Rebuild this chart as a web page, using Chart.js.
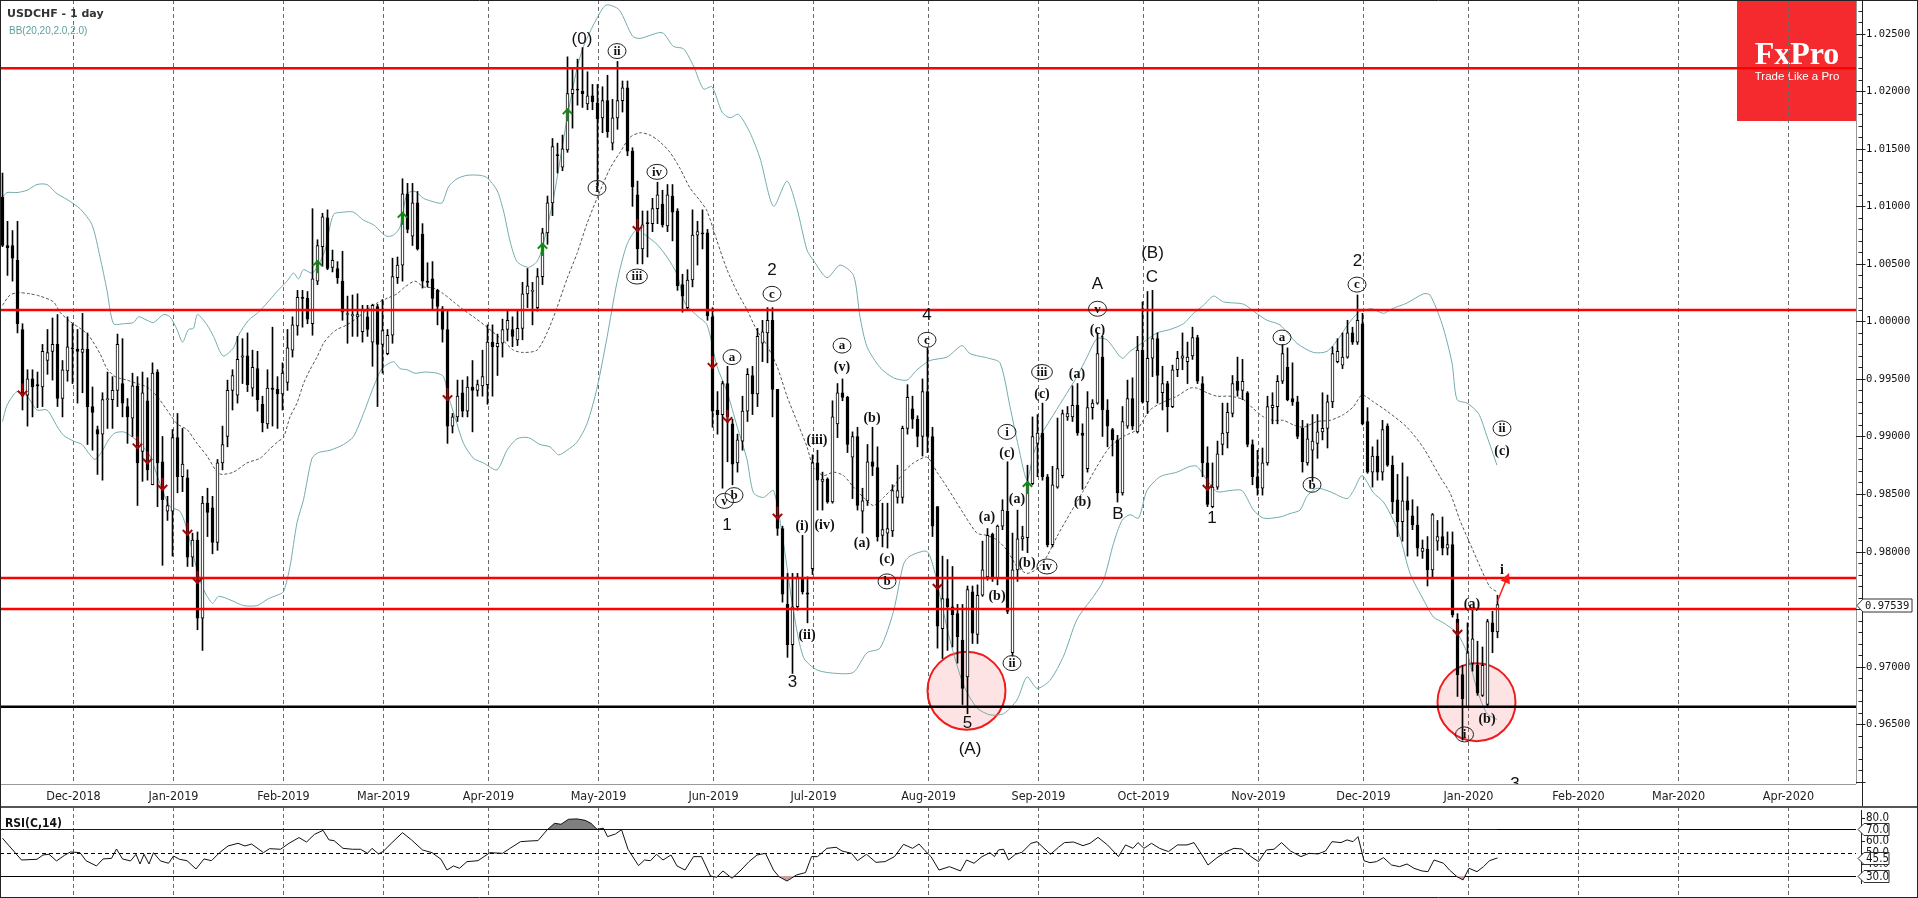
<!DOCTYPE html>
<html>
<head>
<meta charset="utf-8">
<title>USDCHF - 1 day</title>
<script src="https://cdn.jsdelivr.net/npm/chart.js@4.4.1/dist/chart.umd.min.js"></script>
<style>
  html, body { margin: 0; padding: 0; background: #fff; }
  #wrap { position: relative; width: 1918px; height: 898px; overflow: hidden; background: #fff; }
  #main { position: absolute; left: 0; top: 0; }
  #rsi  { position: absolute; left: 0; top: 806px; }
</style>
</head>
<body>
<div id="wrap">
  <canvas id="main" width="1918" height="806" style="width:1918px;height:806px"></canvas>
  <canvas id="rsi" width="1918" height="92" style="width:1918px;height:92px"></canvas>
</div>
<script>
/* ---------- data (prices in pips, 1 pip = 0.0001) ---------- */
const OPENS = [
10108,10066,10066,10053,9993,9936,9950,9945,9943,9966, 9974,9980,9933,9957,9977,9976,9973,9976,9926,9906,
9902,9932,9932,9940,9946,9926,9916,9944,9887,9931, 9858,9956,9878,9835,9835,9899,9865,9864,9795,9810,
9742,9842,9838,9808,9877,9900,9940,9936,9969,9970, 9942,9959,9928,9911,9942,9941,9937,9947,9975,9996,
10021,10020,9998,10035,10065,10090,10047,10046,10035,10006, 10005,10004,9991,10004,9982,10013,9980,9972,9988,10038,
10049,10111,10074,10103,10076,10035,10037,10027,10011,9993, 9909,9917,9938,9922,9943,9940,9944,9945,9982,9978,
9981,9993,9993,9984,9994,10024,10026,10012,10039,10077, 10103,10145,10134,10149,10198,10202,10200,10189,10196,10190,
10177,10192,10155,10177,10192,10203,10148,10110,10063,10086, 10085,10098,10102,10083,10109,10096,10032,10012,10036,10075,
10077,10077,10004,9923,9919,9946,9911,9877,9896,9922, 9953,9937,9981,9990,10001,9941,9820,9754,9719,9752,
9777,9764,9785,9877,9861,9863,9843,9911,9938,9934, 9882,9900,9835,9844,9878,9873,9814,9816,9818,9847,
9847,9907,9924,9915,9900,9939,9900,9839,9733,9759, 9752,9746,9723,9691,9765,9728,9762,9778,9815,9777,
9822,9835,9712,9784,9811,9812,9859,9894,9903,9865, 9806,9856,9866,9917,9917,9927,9903,9872,9925,9929,
9969,9923,9906,9897,9851,9909,9933,9904,9975,9930, 9968,9985,9938,9946,9926,9958,9968,9965,9970,9986,
9946,9877,9839,9856,9893,9903,9920,9948,9940,9938, 9893,9865,9855,9877,9925,9926,9948,9960,9933,9930,
9907,9877,9888,9894,9904,9907,9930,9965,9962,9969, 9990,9982,9998,9913,9869,9883,9869,9909,9875,9845,
9826,9844,9831,9823,9800,9802,9784,9809,9813,9803, 9806,9741,9693,9665,9703,9701,9675,9667,9738,9730
];
const HIGHS = [
10129,10087,10079,10087,9998,9958,9958,9956,9980,9993, 10003,10006,9966,10004,9998,9993,10007,9990,9943,9909,
9938,9956,9952,9989,9985,9933,9955,9952,9956,9951, 9964,9958,9900,9848,9906,9920,9907,9871,9816,9817,
9848,9855,9848,9880,9909,9949,9958,9987,9985,9990, 9975,9974,9935,9958,9995,9952,9964,9993,10004,10027,
10027,10026,10098,10071,10094,10097,10062,10052,10061,10022, 10023,10024,10014,10014,10015,10015,10019,9993,10055,10056,
10124,10120,10120,10113,10085,10051,10052,10028,10013,10010, 9920,9949,9949,9952,9966,9949,9975,9997,9997,9989,
10002,10010,10004,10009,10034,10046,10034,10046,10081,10109, 10159,10155,10162,10230,10219,10228,10238,10217,10206,10206,
10204,10214,10193,10226,10209,10209,10151,10122,10096,10096, 10107,10121,10114,10119,10119,10098,10041,10045,10097,10087,
10097,10080,10012,9939,9948,9961,9915,9902,9935,9959, 9961,9994,10001,10012,10012,9941,9822,9781,9781,9781,
9814,9778,9884,9888,9869,9864,9931,9946,9950,9935, 9904,9908,9855,9893,9908,9891,9842,9842,9858,9875,
9909,9945,9935,9918,9950,9977,9908,9839,9796,9793, 9787,9754,9754,9770,9770,9771,9809,9820,9816,9823,
9845,9878,9816,9836,9822,9875,9917,9919,9929,9867, 9874,9916,9923,9926,9944,9946,9911,9939,9932,9990,
9987,9932,9907,9901,9926,9949,9951,9987,10017,10026, 10027,9990,9961,9948,9962,9974,9990,9982,9995,9988,
9952,9891,9877,9896,9929,9929,9953,9969,9967,9939, 9897,9888,9890,9935,9938,9953,9980,9977,9964,9935,
9914,9911,9919,9919,9938,9936,9978,9985,9990,10001, 9995,10023,10007,9925,9891,9897,9914,9911,9883,9867,
9877,9865,9845,9839,9810,9813,9833,9827,9830,9817, 9817,9746,9701,9738,9749,9722,9717,9741,9748,9762
];
const LOWS = [
10065,10040,10035,9990,9923,9909,9917,9925,9926,9954, 9949,9926,9917,9948,9946,9929,9938,9893,9888,9867,
9862,9907,9907,9926,9917,9894,9900,9840,9861,9862, 9858,9839,9788,9827,9796,9851,9852,9787,9787,9732,
9714,9813,9798,9801,9871,9891,9923,9929,9946,9939, 9935,9922,9904,9907,9909,9907,9923,9940,9969,9988,
9995,9998,9988,10032,10048,10045,10043,10033,10001,9981, 9987,9987,9982,9987,9961,9926,9955,9971,9981,10033,
10035,10077,10066,10062,10029,10030,10011,9997,9982,9894, 9903,9913,9917,9917,9904,9935,9935,9928,9935,9953,
9969,9983,9978,9979,9984,10012,9997,10009,10032,10067, 10092,10129,10131,10147,10168,10188,10186,10184,10184,10116,
10164,10160,10149,10167,10182,10144,10100,10050,10050,10056, 10078,10085,10082,10078,10070,10027,10008,10010,10030,10049,
10063,10001,9908,9902,9855,9878,9858,9869,9888,9913, 9919,9926,9965,9964,9917,9814,9756,9708,9694,9749,
9763,9738,9780,9836,9836,9842,9842,9899,9931,9886, 9846,9836,9816,9840,9866,9809,9804,9803,9813,9842,
9842,9902,9907,9891,9883,9886,9813,9716,9707,9714, 9717,9703,9667,9659,9720,9720,9761,9775,9774,9771,
9819,9746,9709,9774,9801,9799,9858,9865,9862,9804, 9804,9855,9864,9914,9913,9901,9854,9869,9915,9928,
9900,9891,9883,9843,9849,9907,9906,9903,9929,9920, 9952,9929,9923,9904,9925,9952,9958,9946,9967,9946,
9865,9839,9838,9854,9884,9890,9917,9935,9932,9891, 9858,9849,9849,9875,9911,9911,9946,9931,9927,9898,
9869,9875,9861,9881,9897,9890,9925,9964,9959,9968, 9980,9980,9910,9868,9856,9862,9862,9874,9833,9813,
9809,9796,9819,9796,9794,9770,9778,9801,9797,9797, 9743,9674,9636,9665,9696,9675,9674,9665,9712,9725
];
const CLOSES = [
10066,10064,10055,9998,9935,9950,9943,9944,9974,9973, 9980,9933,9958,9978,9976,9974,9976,9926,9921,9902,
9932,9933,9940,9980,9929,9917,9944,9877,9938,9871, 9955,9877,9845,9840,9899,9865,9876,9795,9810,9742,
9842,9834,9808,9877,9893,9940,9953,9967,9970,9945, 9960,9932,9912,9942,9941,9937,9955,9977,9997,10021,
10020,10002,10037,10066,10091,10046,10053,10038,10008,10006, 10005,10006,10010,9993,10014,9980,9992,9988,10039,10049,
10111,10080,10103,10063,10035,10034,10020,10013,9993,9909, 9917,9935,9922,9943,9940,9945,9952,9982,9978,9981,
9993,10001,9987,9994,10024,10031,10027,10039,10077,10103, 10152,10144,10150,10198,10202,10201,10198,10196,10191,10176,
10192,10165,10177,10192,10203,10148,10117,10063,10084,10085, 10098,10110,10084,10110,10095,10031,10022,10036,10075,10078,
10076,10005,9922,9919,9946,9917,9876,9897,9922,9954, 9937,9987,9991,10001,9941,9820,9763,9719,9752,9778,
9765,9763,9877,9862,9863,9843,9917,9938,9934,9893, 9900,9840,9844,9878,9874,9813,9819,9820,9853,9853,
9907,9934,9915,9900,9939,9900,9822,9735,9759,9752, 9745,9726,9681,9767,9729,9762,9784,9814,9777,9822,
9836,9748,9784,9811,9813,9859,9900,9903,9865,9806, 9858,9872,9920,9920,9927,9903,9901,9925,9929,9972,
9923,9909,9897,9851,9913,9933,9909,9975,9930,9968, 9985,9953,9946,9926,9958,9968,9970,9969,9986,9948,
9877,9841,9856,9885,9903,9921,9946,9940,9948,9893, 9865,9855,9877,9926,9927,9948,9972,9932,9930,9900,
9878,9898,9896,9904,9907,9930,9972,9974,9969,9990, 9982,10001,9911,9869,9883,9869,9906,9875,9843,9826,
9844,9836,9823,9803,9803,9784,9832,9813,9803,9806, 9745,9693,9672,9712,9724,9677,9701,9739,9730,9753.9
];

/* Bollinger bands (20, 2): [bar index, pips] */
const BB_UPPER = [[0,10108],[0.9,10112],[2.9,10112],[4.9,10114],[6.9,10119],[8.9,10119],[10.9,10111],[12.9,10106],[15.5,10098],[17.9,10084],[19.5,10056],[20.9,10027],[22.2,9998],[24.2,9998],[26.2,9999],[27.2,10004],[28.9,10001],[30.2,9999],[32.2,10006],[33.5,10004],[34.9,9993],[36,9982],[37.2,9993],[38.2,9994],[39,10006],[40.9,9997],[42.2,9987],[44.1,9970],[46.2,9977],[47.2,9988],[49.2,10001],[51.2,10008],[52.9,10016],[54.9,10026],[56.9,10035],[58.2,10042],[59.2,10037],[60.2,10045],[61.9,10042],[63.2,10049],[64.5,10062],[66.2,10093],[68.2,10095],[70.2,10095],[72.2,10088],[74.2,10084],[75.9,10077],[76.9,10074],[78.2,10075],[79.5,10082],[80.9,10111],[82.5,10113],[84.2,10107],[86.2,10104],[87.9,10103],[89.2,10117],[90.9,10124],[92.9,10127],[95.5,10127],[96.9,10125],[98.9,10114],[100.2,10096],[101.5,10070],[102.9,10052],[105.2,10047],[106.9,10052],[107.9,10063],[110.2,10107],[112.9,10176],[114.9,10220],[116.2,10239],[118.7,10262],[120.7,10275],[123.3,10271],[126,10248],[127.5,10246],[131.9,10251],[134.2,10239],[136.2,10237],[138.2,10222],[140.2,10202],[141.9,10204],[143.9,10182],[145.5,10177],[147.2,10180],[149.5,10164],[151.5,10142],[154.2,10100],[156.9,10122],[158.9,10098],[160.9,10062],[162.2,10053],[164.9,10038],[167.5,10049],[170.2,10040],[171.5,10004],[172.9,9978],[175.5,9960],[178.2,9951],[180.9,9949],[182.9,9958],[185.5,9966],[188.9,9969],[191.9,9979],[193.5,9972],[197.2,9968],[199.5,9964],[201.5,9926],[203.2,9891],[204.9,9862],[206.2,9885],[207.9,9903],[209.5,9914],[212.2,9933],[214.9,9952],[216.9,9969],[218.9,9985],[220.9,9984],[223.9,9968],[225.5,9974],[228.2,9982],[230.9,9990],[233.5,9993],[236.2,9998],[238.2,10007],[240.2,10014],[242.2,10022],[244.2,10017],[248.2,10015],[250.5,10008],[252.9,10001],[255.5,9997],[258.9,9981],[262.2,9973],[264.9,9974],[267.2,9985],[269.2,9998],[271.2,10008],[272.5,10010],[273.9,10011],[276.2,10007],[277.9,10011],[280.9,10016],[284.2,10024],[285.5,10023],[287.9,9998],[289.9,9964],[290.9,9932],[292.9,9929],[295.2,9920],[296.9,9900],[298.9,9875]];
const BB_MID = [[0,10014],[1.5,10023],[3.2,10025],[5.5,10024],[7.5,10022],[10.2,10017],[11.5,10008],[13.5,10000],[15.5,9994],[17.2,9988],[19.5,9972],[20.9,9959],[22.5,9952],[24.9,9949],[26.9,9946],[28.9,9943],[30.9,9935],[32.9,9923],[34.9,9911],[36.9,9906],[38.9,9894],[40.9,9883],[42.9,9869],[43.9,9867],[46.2,9869],[48.9,9877],[51.5,9881],[53.2,9888],[55.2,9896],[56.2,9899],[57.5,9917],[58.9,9929],[60.2,9946],[61.5,9958],[62.9,9969],[64.2,9981],[65.5,9988],[66.9,9993],[68.9,9997],[70.9,10003],[72.9,10010],[74.9,10016],[76.9,10020],[78.9,10024],[80.5,10030],[82.5,10035],[84.2,10030],[86.2,10029],[88.2,10024],[90.2,10017],[92.2,10010],[94.2,10004],[96.9,9995],[100.2,9983],[102.2,9975],[104.2,9973],[106.9,9975],[108.9,9990],[110.9,10012],[112.9,10037],[114.9,10059],[116.9,10085],[118.9,10107],[121.5,10133],[123.5,10147],[125.5,10160],[127.5,10164],[129.5,10162],[131.5,10156],[133.5,10147],[135.5,10133],[137.5,10116],[139.5,10105],[140.9,10096],[142.9,10070],[144.9,10045],[146.9,10026],[148.9,10010],[150.9,9992],[152.9,9979],[154.9,9961],[156.9,9935],[158.9,9913],[160.9,9891],[162.2,9873],[164.2,9866],[166.2,9869],[168.2,9866],[170.2,9856],[172.2,9847],[174.2,9840],[176.2,9847],[178.2,9856],[180.2,9869],[182.2,9877],[184.9,9882],[186.9,9869],[188.9,9856],[192.2,9833],[194.9,9816],[196.9,9814],[198.9,9810],[200.9,9801],[202.9,9787],[204.9,9781],[206.9,9785],[208.9,9796],[210.9,9813],[213.5,9833],[216.2,9853],[218.9,9874],[221.5,9891],[224.2,9900],[226.9,9906],[229.5,9923],[232.2,9930],[234.9,9935],[237.5,9942],[238.9,9942],[240.9,9938],[242.9,9935],[245.5,9935],[248.2,9932],[250.2,9924],[252.2,9917],[254.2,9914],[256.2,9914],[258.2,9910],[260.2,9908],[262.9,9913],[265.5,9914],[268.2,9919],[270.2,9926],[271.9,9936],[274.2,9930],[276.9,9922],[280.9,9908],[284.2,9890],[287.5,9865],[289.5,9851],[291.5,9827],[293.5,9807],[295.5,9787],[297.5,9769],[298.9,9765]];
const BB_LOWER = [[0,9913],[0.9,9927],[2.9,9939],[4.9,9935],[6.9,9923],[8.9,9923],[10.9,9909],[12.2,9901],[14.2,9896],[15.9,9893],[17.5,9884],[18.5,9880],[19.9,9887],[21.2,9897],[22.5,9903],[24.2,9904],[25.5,9901],[27.5,9894],[29.5,9883],[31.5,9859],[33.5,9839],[35.5,9835],[36.9,9819],[38.9,9784],[40.2,9767],[42,9755],[43.2,9761],[45.5,9758],[48.2,9753],[50.9,9753],[53.2,9759],[54.9,9762],[56.2,9765],[57.5,9787],[58.9,9825],[60.2,9845],[61.9,9881],[63.2,9886],[65.5,9888],[68.2,9893],[70.2,9900],[72.2,9920],[74.2,9943],[75.9,9959],[78.2,9965],[79.5,9959],[80.9,9958],[82.5,9955],[84.5,9956],[86.9,9955],[88.2,9952],[89.2,9935],[90.9,9911],[92.2,9894],[94.2,9881],[96.2,9877],[98.9,9871],[100.9,9888],[102.9,9898],[105.2,9899],[107.5,9893],[109.5,9891],[111.2,9884],[112.9,9888],[114.9,9895],[116.9,9911],[118.9,9942],[120.9,9986],[122.9,10034],[124.9,10067],[126.9,10080],[128.9,10074],[130.9,10067],[132.9,10056],[134.9,10041],[136.5,10016],[138.9,10005],[140.9,9997],[142.9,9961],[144.9,9939],[146.9,9909],[148.9,9880],[150.2,9851],[152.2,9847],[154.2,9853],[156.2,9807],[158.2,9748],[160.2,9708],[162.9,9697],[166.9,9694],[170.2,9695],[172.9,9712],[175.5,9716],[178.2,9748],[180.2,9789],[181.5,9796],[184.9,9800],[186.5,9781],[187.5,9761],[189.5,9723],[192.2,9684],[194.9,9664],[197.5,9658],[200.2,9659],[202.9,9671],[204.9,9691],[206.9,9681],[209.5,9688],[212.2,9709],[214.9,9741],[218.2,9761],[220.2,9775],[222.2,9807],[223.9,9827],[225.5,9832],[227.2,9829],[228.9,9853],[231.5,9865],[234.9,9869],[237.5,9874],[238.9,9874],[240.9,9862],[242.9,9852],[245.5,9853],[247.9,9853],[250.2,9836],[252.2,9829],[255.5,9830],[257.5,9833],[259.5,9836],[260.9,9848],[262.9,9855],[265.5,9852],[268.9,9846],[270.2,9853],[271.9,9866],[274.2,9851],[276.2,9843],[278.2,9827],[279.5,9813],[281.5,9781],[284.2,9758],[286.2,9743],[288.2,9738],[290.9,9729],[292.9,9712],[294.9,9680],[296.9,9659],[298.9,9654]];

/* RSI(14) */
const RSI_X = [0,3.8,6.9,8.1,9.3,10.8,12.4,13.6,15.5,16.7, 18.8,20.1,21.8,22.8,24,25.6,26.7,27.5,28.3,29.3,
30.2,31.6,33.2,34.2,35.4,36.9,38.7,40.3,41.8,43.4, 45.1,47.1,48.5,49.8,52.2,53.4,55.6,57.3,59.3,60.8,
62.4,64.1,65.3,66.3,68.1,70,71.6,73,73.9,75.2, 76.1,77.9,80,81.8,84,85.9,87.7,88.9,90.2,91.4,
92.9,95.1,96.3,97.5,100,101.4,103.6,105.5,107.1,108.9, 110.4,111.7,113.2,114.9,116.5,117.7,118.9,120.2,121,122.6,
123.8,125.1,127.2,128.4,129.6,130.8,132.1,133.7,134.9,136.5, 138.2,139.8,141.6,142.8,144.1,145.9,147.7,149.3,150.9,152.6,
154.2,155.3,156.9,158.8,160.6,161.8,163,164.9,166.7,167.9, 169.8,171,172.8,174.7,176.5,178.4,180.2,182,183.3,184.5,
185.7,187.3,189.4,191.6,
192.8,194.3,195.9,197.5,198.4,199.2,200.2,201.2,202.6,203.9, 205.7,206.9,208.1,209.6,211.2,212.4,214.2,216.1,217.5,219.1,
221,223.2,224.6,226.1,227.1,228.3,229.8,231.4,233.2,235, 236.9,238.3,239.9,241.1,242.9,244.8,246.3,247.9,249.7,251.2,
252.8,254.3,255.8,257.6,259.7,261.3,263.1,264.6,265.9,267.7, 268.9,270.1,271.1,272.3,273.5,274.8,276.2,277.8,279.4,280.9,
282.3,283.9,285.1,286.3,288.2,289.4,290.9,292.1,293.3,294.9, 296.2,297.4,299];
const RSI_V = [62.3,43.7,44.3,48,48.6,42.9,47.7,50.6,50,43.1, 38.6,44.6,45.1,53.1,44.6,42.9,48.6,40.3,48.6,40.3,
50,42.9,40.9,47.1,44.3,43.1,36,44.6,43.1,50, 55.7,58,55.7,57.4,50,53.4,52.9,58,62.9,59.1,
65.7,69.1,60.9,60.3,53.7,52.9,52.9,49.4,53.7,48.9, 50.9,58.6,67.1,60.9,52.3,50,44.3,35.1,38.6,36.6,
42.3,43.1,46.6,50,49.4,53.4,59.4,60,60.3,69.4, 75.1,74.3,78.6,78.9,77.7,75.1,70,70.9,63.7,66,
69.7,52.9,38.9,43.7,43.1,48.6,43.7,48,38.6,35.1, 46.6,46.6,30,28.9,34.3,28,35.1,42.3,48,49.4,
35.1,29.4,25.7,30.9,32.9,46.6,46.6,53.7,54.6,51.4, 49.4,43.1,48.6,41.7,42.3,46.6,57.1,53.7,57.4,51.7,
46.6,35.1,38,34.3,
43.7,40.9,46.6,50,46.6,52.3,52.9,43.7,48.6,50.3, 58,59.4,54.6,48.6,54.6,58.6,59.1,56,58,63.1,
56.6,46.6,56.6,53.7,58.6,53.7,58,53.7,50.9,56.6, 56.6,58.6,48,39.4,45.7,50.9,53.7,53.1,46.6,42.3,
52.3,52.9,58.6,51.4,46.6,49.4,48.9,51.4,59.4,58.6, 60.9,59.4,63.7,43.1,41.4,42.3,45.7,39.4,38,40.3,
36.6,34.3,33.7,43.7,40.9,35.1,29.4,26.6,36.6,33.7, 38,43.1,45.5];

/* month starts (bar index) and their labels */
const MONTH_IDX = [14,34,56,76,97,119,142,162,185,207,228,251,272,293,315,335,357];
const MONTH_LABELS = ['Dec-2018','Jan-2019','Feb-2019','Mar-2019','Apr-2019','May-2019','Jun-2019','Jul-2019','Aug-2019',
  'Sep-2019','Oct-2019','Nov-2019','Dec-2019','Jan-2020','Feb-2020','Mar-2020','Apr-2020'];

/* horizontal levels */
const RED_LEVELS = [1.0220, 1.0010, 0.9777, 0.9750];
const SUPPORT_LEVEL = 0.9665;

/* annotations: [bar, pips] */
const DOWN_MARKS = [[4,9940],[27,9894],[29,9881],[32,9858],[37,9819],[39,9777],[89,9936],[127,10083],[142,9964],[145,9917],[155,9833],[187,9772],[241,9858],[291,9732]];
const UP_MARKS = [[63,10048],[80,10090],[108,10063],[113,10180],[205,9856]];
const RINGS = [[192.8,9679],[294.8,9669]];
const WAVES = [
  [115.9,10245,'(0)','n'],[122.9,10235,'ii','c'],[118.9,10116,'i','c'],[130.9,10130,'iv','c'],[126.9,10039,'iii','c'],
  [153.9,10044,'2','n'],[153.9,10024,'c','c'],[145.9,9969,'a','c'],[144.4,9844,'v','c'],[146.3,9849,'b','c'],
  [144.9,9823,'1','n'],[158,9686,'3','n'],[159.9,9822,'(i)','p'],[160.9,9727,'(ii)','p'],[162.9,9897,'(iii)','p'],
  [164.4,9823,'(iv)','p'],[167.9,9979,'a','c'],[167.9,9960,'(v)','p'],[173.9,9916,'(b)','p'],[171.9,9807,'(a)','p'],
  [176.9,9793,'(c)','p'],[176.9,9774,'b','c'],[184.9,10005,'4','n'],[184.9,9984,'c','c'],[193,9651,'5','n'],
  [193.5,9628,'(A)','n'],[200.9,9904,'i','c'],[200.9,9885,'(c)','p'],[196.9,9830,'(a)','p'],[202.9,9845,'(a)','p'],
  [198.9,9761,'(b)','p'],[204.9,9790,'(b)','p'],[201.9,9703,'ii','c'],[208.9,9787,'iv','c'],[207.9,9956,'iii','c'],
  [207.9,9937,'(c)','p'],[214.9,9954,'(a)','p'],[216,9843,'(b)','p'],[219,10032,'A','n'],[219,10011,'v','c'],
  [219,9992,'(c)','p'],[223.1,9832,'B','n'],[229.9,10038,'C','n'],[230,10059,'(B)','n'],[241.9,9829,'1','n'],
  [255.9,9986,'a','c'],[261.9,9858,'b','c'],[270.9,10032,'c','c'],[271,10052,'2','n'],[299.9,9907,'ii','c'],
  [299.9,9887,'(c)','p'],[299.9,9784,'i','p'],[293.9,9754,'(a)','p'],[296.9,9654,'(b)','p'],[292.4,9641,'i','c'],
  [302.5,9598,'3','n']
];
const TARGET_ARROW = [[299,9757],[301,9778]];

/* ---------- layout ---------- */
const X_MIN = -0.5, X_MAX = X_MIN + 1856 / 5;
const Y_MIN = 0.95979, Y_MAX = 1.02794;
const RSI_MIN = 12.0, RSI_MAX = 89.1;
const NARROW = "'Liberation Sans Narrow','DejaVu Sans Condensed','Arial Narrow',sans-serif";
const MONO = "'DejaVu Sans Mono','Liberation Mono',monospace";
const SERIF = "'Liberation Serif','DejaVu Serif',serif";
const SANS = "'Liberation Sans',Arial,sans-serif";
const P = v => v / 10000;

const bodies = OPENS.map((o, i) => ({ x: i, y: [P(Math.min(o, CLOSES[i])), P(Math.max(o, CLOSES[i]))], up: CLOSES[i] >= o }));
const wicks = OPENS.map((o, i) => ({ x: i, y: [P(LOWS[i]), P(HIGHS[i])] }));
const band = arr => arr.map(([x, v]) => ({ x, y: P(v) }));
const level = v => [{ x: X_MIN, y: v }, { x: X_MAX, y: v }];

function monthGrid(ctx, chart){
  const { chartArea: a, scales: { x } } = chart;
  ctx.save();
  ctx.strokeStyle = '#6a6a6a'; ctx.lineWidth = 1; ctx.setLineDash([4, 3]);
  MONTH_IDX.forEach(i => {
    const px = Math.round(x.getPixelForValue(i)) + 0.5;
    ctx.beginPath(); ctx.moveTo(px, a.top); ctx.lineTo(px, a.bottom); ctx.stroke();
  });
  ctx.restore();
}

function tag(ctx, tip, yc, w, h, text, font){
  ctx.save();
  ctx.beginPath();
  ctx.moveTo(tip, yc); ctx.lineTo(tip + 6, yc - h / 2); ctx.lineTo(tip + 6 + w, yc - h / 2);
  ctx.lineTo(tip + 6 + w, yc + h / 2); ctx.lineTo(tip + 6, yc + h / 2); ctx.closePath();
  ctx.fillStyle = '#fff'; ctx.fill(); ctx.strokeStyle = '#333'; ctx.lineWidth = 1; ctx.stroke();
  ctx.fillStyle = '#111'; ctx.font = font; ctx.textBaseline = 'middle'; ctx.textAlign = 'left';
  ctx.fillText(text, tip + 8, yc + 0.5);
  ctx.restore();
}

function arrowMark(ctx, px, py, down, color){
  ctx.save();
  ctx.strokeStyle = color; ctx.lineWidth = 2; ctx.lineCap = 'square';
  const d = down ? 1 : -1;
  ctx.beginPath(); ctx.moveTo(px, py - 6 * d); ctx.lineTo(px, py + 5 * d); ctx.stroke();
  ctx.beginPath(); ctx.moveTo(px - 4, py + 1 * d); ctx.lineTo(px, py + 5 * d); ctx.lineTo(px + 4, py + 1 * d); ctx.stroke();
  ctx.restore();
}

function waveLabel(ctx, px, py, text, kind){
  ctx.save();
  ctx.fillStyle = '#111'; ctx.textAlign = 'center'; ctx.textBaseline = 'middle';
  if (kind === 'n') {
    ctx.font = '17px ' + SANS;
    ctx.fillText(text, px, py);
  } else if (kind === 'p') {
    ctx.font = 'bold 14px ' + SERIF;
    ctx.fillText(text, px, py);
  } else {
    ctx.font = 'bold 13px ' + SERIF;
    const w = ctx.measureText(text).width;
    ctx.beginPath(); ctx.ellipse(px, py, Math.max(9, w / 2 + 5), 7.5, 0, 0, Math.PI * 2);
    ctx.strokeStyle = '#222'; ctx.lineWidth = 1; ctx.stroke();
    ctx.fillText(text, px, py + 0.5);
  }
  ctx.restore();
}

/* ---------- main panel ---------- */
const mainDeco = {
  id: 'mainDeco',
  beforeDatasetsDraw(chart){
    const { ctx, chartArea: a, scales: { x, y } } = chart;
    // FxPro logo
    ctx.save();
    ctx.fillStyle = '#f42a2e'; ctx.fillRect(1737, 0, 120, 121);
    ctx.fillStyle = '#fff'; ctx.textAlign = 'center'; ctx.textBaseline = 'alphabetic';
    ctx.font = 'bold 32px ' + SERIF; ctx.fillText('FxPro', 1797, 64);
    ctx.font = '11.5px ' + SANS; ctx.fillText('Trade Like a Pro', 1797, 80);
    ctx.restore();
    monthGrid(ctx, chart);
    // rings
    ctx.save();
    RINGS.forEach(([i, p]) => {
      ctx.beginPath(); ctx.arc(x.getPixelForValue(i), y.getPixelForValue(P(p)), 39, 0, Math.PI * 2);
      ctx.fillStyle = 'rgba(240,80,80,0.16)'; ctx.fill();
      ctx.strokeStyle = '#ee1c1c'; ctx.lineWidth = 2; ctx.stroke();
    });
    ctx.restore();
  },
  afterDatasetsDraw(chart){
    const { ctx, chartArea: a, scales: { x, y } } = chart;
    ctx.save();
    ctx.beginPath(); ctx.rect(a.left, a.top, a.right - a.left, a.bottom - a.top); ctx.clip();
    DOWN_MARKS.forEach(([i, p]) => arrowMark(ctx, x.getPixelForValue(i), y.getPixelForValue(P(p)), true, '#9b0a0a'));
    UP_MARKS.forEach(([i, p]) => arrowMark(ctx, x.getPixelForValue(i), y.getPixelForValue(P(p)), false, '#118a11'));
    WAVES.forEach(([i, p, t, k]) => waveLabel(ctx, x.getPixelForValue(i), y.getPixelForValue(P(p)), t, k));
    // projected move
    const [s, e] = TARGET_ARROW;
    const x0 = x.getPixelForValue(s[0]), y0 = y.getPixelForValue(P(s[1]));
    const x1 = x.getPixelForValue(e[0]), y1 = y.getPixelForValue(P(e[1]));
    const ang = Math.atan2(y1 - y0, x1 - x0);
    ctx.strokeStyle = '#ff1a1a'; ctx.fillStyle = '#ff1a1a'; ctx.lineWidth = 1.5;
    ctx.beginPath(); ctx.moveTo(x0, y0); ctx.lineTo(x1, y1); ctx.stroke();
    ctx.beginPath();
    ctx.moveTo(x1 + 4 * Math.cos(ang), y1 + 4 * Math.sin(ang));
    ctx.lineTo(x1 - 6 * Math.cos(ang) + 5 * Math.sin(ang), y1 - 6 * Math.sin(ang) - 5 * Math.cos(ang));
    ctx.lineTo(x1 - 6 * Math.cos(ang) - 5 * Math.sin(ang), y1 - 6 * Math.sin(ang) + 5 * Math.cos(ang));
    ctx.closePath(); ctx.fill();
    ctx.restore();
  },
  afterDraw(chart){
    const { ctx, chartArea: a, scales: { x, y } } = chart;
    ctx.save();
    // frame
    ctx.strokeStyle = '#999'; ctx.lineWidth = 1;
    ctx.beginPath(); ctx.moveTo(0, a.bottom + 0.5); ctx.lineTo(a.right, a.bottom + 0.5); ctx.stroke();
    ctx.beginPath(); ctx.moveTo(a.right + 0.5, 0); ctx.lineTo(a.right + 0.5, a.bottom); ctx.stroke();
    ctx.strokeStyle = '#222';
    ctx.beginPath(); ctx.moveTo(0.5, 0); ctx.lineTo(0.5, 806); ctx.stroke();
    ctx.beginPath(); ctx.moveTo(0, 0.5); ctx.lineTo(1918, 0.5); ctx.stroke();
    ctx.beginPath(); ctx.moveTo(1917.5, 0); ctx.lineTo(1917.5, 806); ctx.stroke();
    const axX = 1862.5;
    ctx.beginPath(); ctx.moveTo(axX, 0); ctx.lineTo(axX, 806); ctx.stroke();
    // ticks + labels
    ctx.fillStyle = '#111'; ctx.font = '10.5px ' + MONO; ctx.textBaseline = 'middle'; ctx.textAlign = 'left';
    for (let k = 960; k <= 1027; k++) {
      const py = Math.round(y.getPixelForValue(k / 1000)) + 0.5;
      const major = k % 5 === 0;
      ctx.beginPath(); ctx.moveTo(major ? a.right : axX - 4, py); ctx.lineTo(major ? axX + 3 : axX, py); ctx.stroke();
      if (major && k >= 965) ctx.fillText((k / 1000).toFixed(5), 1866, py);
    }
    // date labels
    ctx.font = '12.5px ' + NARROW; ctx.textAlign = 'center'; ctx.fillStyle = '#222';
    MONTH_IDX.forEach((i, k) => ctx.fillText(MONTH_LABELS[k], x.getPixelForValue(i) + 1, 797));
    // title
    ctx.textAlign = 'left'; ctx.textBaseline = 'alphabetic';
    ctx.font = 'bold 11px ' + "'DejaVu Sans',sans-serif"; ctx.fillStyle = '#333';
    ctx.fillText('USDCHF - 1 day', 7, 17);
    ctx.font = '10px ' + SANS; ctx.fillStyle = '#5f9ea0';
    ctx.fillText('BB(20,20,2.0,2.0)', 9, 34);
    ctx.restore();
    // last price tag
    const last = CLOSES[CLOSES.length - 1];
    tag(ctx, a.right + 1, Math.round(y.getPixelForValue(P(last))) + 0.5, 49, 13, P(last).toFixed(5), '10.5px ' + MONO);
  }
};

new Chart(document.getElementById('main'), {
  type: 'bar',
  data: {
    datasets: [
      ...RED_LEVELS.map(v => ({ type: 'line', data: level(v), borderColor: '#ff0000', borderWidth: 2.5, pointRadius: 0, order: 0 })),
      { type: 'line', data: level(SUPPORT_LEVEL), borderColor: '#000', borderWidth: 2.5, pointRadius: 0, order: 0 },
      { type: 'bar', data: bodies, grouped: false, barThickness: 3, minBarLength: 1, borderWidth: 1, borderSkipped: false,
        borderColor: '#000', backgroundColor: c => (c.raw && c.raw.up) ? '#fff' : '#000', order: 1 },
      { type: 'bar', data: wicks, grouped: false, barThickness: 1, borderWidth: 0, backgroundColor: '#000', order: 2 },
      { type: 'line', data: band(BB_UPPER), borderColor: '#74abae', borderWidth: 1, pointRadius: 0, tension: 0.25, order: 3 },
      { type: 'line', data: band(BB_LOWER), borderColor: '#74abae', borderWidth: 1, pointRadius: 0, tension: 0.25, order: 3 },
      { type: 'line', data: band(BB_MID), borderColor: '#4d5a5a', borderWidth: 1, borderDash: [3, 2], pointRadius: 0, tension: 0.25, order: 3 }
    ]
  },
  options: {
    responsive: false, animation: false, devicePixelRatio: 1,
    layout: { padding: { left: 0, top: 0, right: 62, bottom: 22 } },
    plugins: { legend: { display: false }, tooltip: { enabled: false } },
    scales: {
      x: { type: 'linear', min: X_MIN, max: X_MAX, offset: false, display: false },
      y: { type: 'linear', min: Y_MIN, max: Y_MAX, display: false }
    }
  },
  plugins: [mainDeco]
});

/* ---------- RSI panel ---------- */
const rsiPts = RSI_X.map((x, k) => ({ x, y: RSI_V[k] }));
const rsiDeco = {
  id: 'rsiDeco',
  beforeDatasetsDraw(chart){
    const { ctx, chartArea: a, scales: { y } } = chart;
    monthGrid(ctx, chart);
    ctx.save();
    ctx.strokeStyle = '#000'; ctx.lineWidth = 1;
    [70, 30].forEach(v => { const py = Math.round(y.getPixelForValue(v)) + 0.5;
      ctx.beginPath(); ctx.moveTo(0, py); ctx.lineTo(a.right, py); ctx.stroke(); });
    ctx.setLineDash([4, 3]);
    const p50 = Math.round(y.getPixelForValue(50)) + 0.5;
    ctx.beginPath(); ctx.moveTo(0, p50); ctx.lineTo(a.right, p50); ctx.stroke();
    ctx.restore();
  },
  afterDraw(chart){
    const { ctx, chartArea: a, scales: { y } } = chart;
    ctx.save();
    ctx.strokeStyle = '#555'; ctx.lineWidth = 2;
    ctx.beginPath(); ctx.moveTo(0, 1); ctx.lineTo(1918, 1); ctx.stroke();
    ctx.lineWidth = 1; ctx.strokeStyle = '#222';
    ctx.beginPath(); ctx.moveTo(0.5, 0); ctx.lineTo(0.5, 92); ctx.stroke();
    ctx.beginPath(); ctx.moveTo(0, 91.5); ctx.lineTo(1918, 91.5); ctx.stroke();
    ctx.beginPath(); ctx.moveTo(1917.5, 0); ctx.lineTo(1917.5, 92); ctx.stroke();
    ctx.beginPath(); ctx.moveTo(1861.5, 4); ctx.lineTo(1861.5, 78); ctx.stroke();
    ctx.fillStyle = '#111'; ctx.font = 'bold 12px ' + NARROW; ctx.textBaseline = 'alphabetic'; ctx.textAlign = 'left';
    ctx.fillText('RSI(C,14)', 5, 21);
    ctx.font = '11.5px ' + NARROW; ctx.textBaseline = 'middle';
    [80, 60, 50, 40].forEach(v => { const py = Math.round(y.getPixelForValue(v)) + 0.5;
      ctx.beginPath(); ctx.moveTo(1861, py); ctx.lineTo(1865, py); ctx.stroke();
      ctx.fillText(v.toFixed(1), 1866, py); });
    ctx.restore();
    const f = '11.5px ' + NARROW;
    [70, 30].forEach(v => tag(ctx, 1858, Math.round(y.getPixelForValue(v)) + 0.5, 25, 12, v.toFixed(1), f));
    const lastR = RSI_V[RSI_V.length - 1];
    tag(ctx, 1858, Math.round(y.getPixelForValue(lastR)) + 0.5, 25, 12, lastR.toFixed(1), f);
  }
};

new Chart(document.getElementById('rsi'), {
  type: 'line',
  data: {
    datasets: [
      { data: rsiPts, borderColor: '#111', borderWidth: 1, pointRadius: 0, tension: 0, order: 0 },
      { data: rsiPts, borderWidth: 0, pointRadius: 0, tension: 0, order: 1,
        fill: { target: { value: 70 }, above: '#7f7f7f', below: 'rgba(0,0,0,0)' } },
      { data: rsiPts, borderWidth: 0, pointRadius: 0, tension: 0, order: 2,
        fill: { target: { value: 30 }, above: 'rgba(0,0,0,0)', below: '#c9a3a3' } }
    ]
  },
  options: {
    responsive: false, animation: false, devicePixelRatio: 1,
    layout: { padding: { left: 0, top: 1, right: 62, bottom: 1 } },
    plugins: { legend: { display: false }, tooltip: { enabled: false } },
    scales: {
      x: { type: 'linear', min: X_MIN, max: X_MAX, display: false },
      y: { type: 'linear', min: RSI_MIN, max: RSI_MAX, display: false }
    }
  },
  plugins: [rsiDeco]
});
</script>
</body>
</html>
